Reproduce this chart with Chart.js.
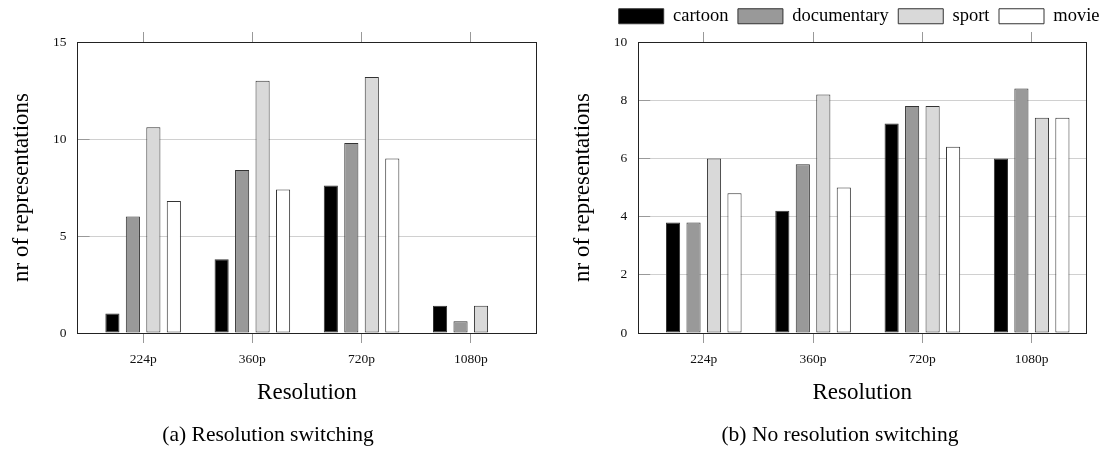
<!DOCTYPE html>
<html>
<head>
<meta charset="utf-8">
<script src="https://cdn.jsdelivr.net/npm/chart.js@4.4.0/dist/chart.umd.min.js"></script>
<style>
  body { margin: 0; background: #fff; }
  #wrap { position: relative; width: 1101px; height: 450px; overflow: hidden; }
  canvas { position: absolute; top: 0; }
  .caption {
    position: absolute; top: 423px; line-height: 22px;
    font-family: "Liberation Serif", serif; font-size: 21.5px; color: #000;
    transform: translateX(-50%); white-space: nowrap;
  }
</style>
</head>
<body>
<div id="wrap">
  <canvas id="switchChart" width="550" height="450" style="left:0"></canvas>
  <canvas id="noSwitchChart" width="551" height="450" style="left:550px"></canvas>
  <div class="caption" style="left:268px">(a) Resolution switching</div>
  <div class="caption" style="left:840px">(b) No resolution switching</div>
</div>
<script>
const resolutions = ["224p", "360p", "720p", "1080p"];
const genres = ["cartoon", "documentary", "sport", "movie"];

// (a) resolution switching
const cartoonA = [1, 3.8, 7.6, 1.4];
const documentaryA = [6, 8.4, 9.8, 0.6];
const sportA = [10.6, 13, 13.2, 1.4];
const movieA = [6.8, 7.4, 9, 0];

// (b) no resolution switching
const cartoonB = [3.8, 4.2, 7.2, 6];
const documentaryB = [3.8, 5.8, 7.8, 8.4];
const sportB = [6, 8.2, 7.8, 7.4];
const movieB = [4.8, 5, 6.4, 7.4];

const fills = ["#000000", "#999999", "#d9d9d9", "#ffffff"];
const serif = "'Liberation Serif', 'Times New Roman', serif";

const tickFont = { family: serif, size: 13.5 };
const titleFont = { family: serif, size: 23 };

const makeChart = (id, series, cfg) => {
  const ctx = document.getElementById(id).getContext("2d");
  return new Chart(ctx, {
    type: "bar",
    data: {
      datasets: series.map((vals, k) => ({
        label: genres[k],
        data: vals.map((v, i) => ({ x: i, y: v })),
        backgroundColor: fills[k],
        borderColor: "#333333",
        borderWidth: 1,
        borderSkipped: false,
        categoryPercentage: 0.75,
        barPercentage: 0.69,
      })),
    },
    options: {
      responsive: false,
      animation: false,
      layout: { padding: { top: cfg.padTop, right: cfg.padRight, left: 0, bottom: 0 } },
      plugins: {
        tooltip: { enabled: false },
        legend: {
          display: cfg.legend,
          position: "top",
          align: "end",
          labels: {
            boxWidth: 45,
            boxHeight: 15,
            padding: 9.5,
            color: "#000",
            font: { family: serif, size: 18.5 },
          },
        },
      },
      scales: {
        x: {
          type: "linear",
          position: "bottom",
          min: -0.6,
          max: cfg.xMax,
          offset: false,
          grid: { offset: false, drawOnChartArea: false, tickLength: 10, tickColor: "#999", color: "#999" },
          border: { display: true, color: "#222", width: 1 },
          ticks: {
            stepSize: 1,
            includeBounds: false,
            autoSkip: false,
            maxRotation: 0,
            padding: 8,
            color: "#111",
            font: tickFont,
            callback: (v) => resolutions[Math.round(v)] ?? "",
          },
          title: {
            display: true,
            text: "Resolution",
            color: "#000",
            font: titleFont,
            padding: { top: 0, bottom: 43 },
          },
          afterFit: (s) => { s.height = 117; },
        },
        x2: {
          type: "linear",
          position: "top",
          min: -0.6,
          max: cfg.xMax,
          offset: false,
          grid: { offset: false, drawOnChartArea: false, tickLength: 10, tickColor: "#999", color: "#999" },
          border: { display: true, color: "#222", width: 1 },
          ticks: { stepSize: 1, includeBounds: false, display: false },
          afterFit: (s) => {
            const lg = cfg.legend && s.chart.legend ? s.chart.legend.height : 0;
            s.height = 42 - cfg.padTop - lg;
          },
        },
        y: {
          min: 0,
          max: cfg.yMax,
          ticks: { stepSize: cfg.yStep, padding: 23, color: "#111", font: tickFont },
          grid: { color: "#d0d0d0", tickLength: -12, tickColor: "#999" },
          border: { display: true, color: "#222", width: 1 },
          title: {
            display: true,
            text: "nr of representations",
            color: "#000",
            font: titleFont,
            padding: { top: cfg.yTitlePad, bottom: 0 },
          },
          afterFit: (s) => { s.width = cfg.plotLeft; },
        },
        y2: {
          position: "right",
          min: 0,
          max: cfg.yMax,
          ticks: { display: false },
          grid: { drawOnChartArea: false, drawTicks: false },
          border: { display: true, color: "#222", width: 1 },
          afterFit: (s) => { s.width = cfg.rightGap - cfg.padRight; },
        },
      },
    },
  });
};

makeChart("switchChart", [cartoonA, documentaryA, sportA, movieA], {
  legend: false, padTop: 0, padRight: 0, xMax: 3.6, yMax: 15, yStep: 5,
  plotLeft: 77.6, rightGap: 13.7, yTitlePad: 8,
});

makeChart("noSwitchChart", [cartoonB, documentaryB, sportB, movieB], {
  legend: true, padTop: -2.5, padRight: -8, xMax: 3.5, yMax: 10, yStep: 2,
  plotLeft: 88.2, rightGap: 14.7, yTitlePad: 19,
});
</script>
</body>
</html>
